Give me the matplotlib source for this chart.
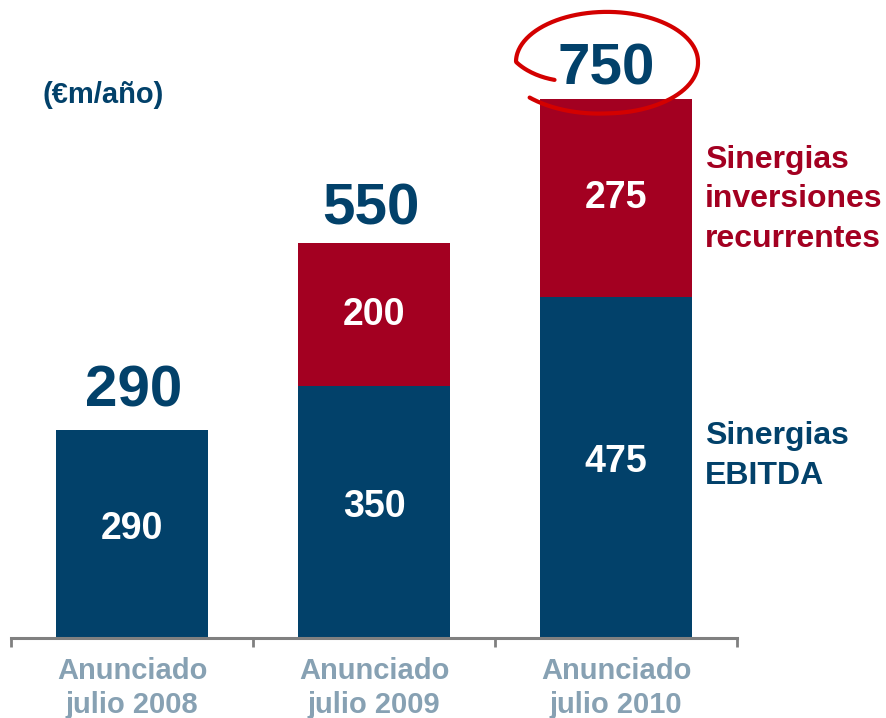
import numpy as np
import matplotlib
matplotlib.use("Agg")
import matplotlib.pyplot as plt
from matplotlib.transforms import IdentityTransform

plt.rcParams['font.family'] = ['Liberation Sans', 'DejaVu Sans']
plt.rcParams['font.weight'] = 'bold'

# data (€m/año)
categories = ['Anunciado\njulio 2008', 'Anunciado\njulio 2009', 'Anunciado\njulio 2010']
sinergias_ebitda = [290, 350, 475]
sinergias_inversiones = [0, 200, 275]
totales = [290, 550, 750]

NAVY = '#02416A'
RED = '#A30021'
GREY_LABEL = '#87A1B3'
AXIS_GREY = '#808080'
CIRCLE_RED = '#D30000'

W, H = 887, 718
fig = plt.figure(figsize=(W / 100, H / 100), dpi=100)
ax = fig.add_axes([11 / W, 80 / H, 726 / W, 611 / H])

x = np.arange(len(categories))
ax.bar(x, sinergias_ebitda, width=0.624, color=NAVY, zorder=2)
ax.bar(x, sinergias_inversiones, bottom=sinergias_ebitda, width=0.624, color=RED, zorder=2)
ax.set_xlim(-0.5, 2.5)
ax.set_ylim(0, 850)

# values inside the segments
for i, v in enumerate(sinergias_ebitda):
    ax.annotate(str(v), (i, v / 2), xytext=(0, 5), textcoords='offset pixels',
                ha='center', va='center', fontsize=27, color='white', zorder=3)
for i, v in enumerate(sinergias_inversiones):
    if v:
        base = sinergias_ebitda[i]
        ax.annotate(str(v), (i, base + v / 2), xytext=(0, 0), textcoords='offset pixels',
                    ha='center', va='center', fontsize=27, color='white', zorder=3)

# totals above the bars
total_pad = [23, 18, 14]
total_dx = [2, -3, -10]
for i, t in enumerate(totales):
    ax.annotate(str(t), (i, t), xytext=(total_dx[i], total_pad[i]), textcoords='offset pixels',
                ha='center', va='baseline', fontsize=42, color=NAVY, zorder=3)

# hand-drawn red ring round the last total
fig.canvas.draw()
cx, cy = ax.transData.transform((2, totales[2]))
cx, cy = cx - 9, cy + 37
theta = np.linspace(212, -140, 300)
r = np.interp(theta, [-140, -90, 0, 180, 212], [1.11, 1.03, 1.0, 1.0, 0.68])
rx = cx + 91 * r * np.cos(np.radians(theta))
ry = cy + 50 * r * np.sin(np.radians(theta))
ax.plot(rx, ry, transform=IdentityTransform(), color=CIRCLE_RED, lw=3,
        solid_capstyle='round', clip_on=False, zorder=4)

# axis styling
for s in ['left', 'top', 'right']:
    ax.spines[s].set_visible(False)
ax.spines['bottom'].set_color(AXIS_GREY)
ax.spines['bottom'].set_linewidth(2.2)
ax.set_yticks([])
ax.set_xticks(x, categories)
ax.set_xticks([-0.5, 0.5, 1.5, 2.5], minor=True)
ax.tick_params(axis='x', which='major', length=0, pad=13.5, labelsize=21, labelcolor=GREY_LABEL)
ax.tick_params(axis='x', which='minor', length=6.5, width=2, color=AXIS_GREY, direction='out')
for lbl in ax.get_xticklabels():
    lbl.set_linespacing(1.27)

# unit and series labels (baseline = last line)
fig.text(43 / W, 1 - 103 / H, '(€m/año)', fontsize=21, color=NAVY, va='baseline')
fig.text(705 / W, 1 - 247 / H, 'Sinergias\ninversiones\nrecurrentes', fontsize=23,
         color=RED, va='baseline', linespacing=1.42)
fig.text(705 / W, 1 - 484 / H, 'Sinergias\nEBITDA', fontsize=23,
         color=NAVY, va='baseline', linespacing=1.42)

fig.savefig('out.png', dpi=100)
